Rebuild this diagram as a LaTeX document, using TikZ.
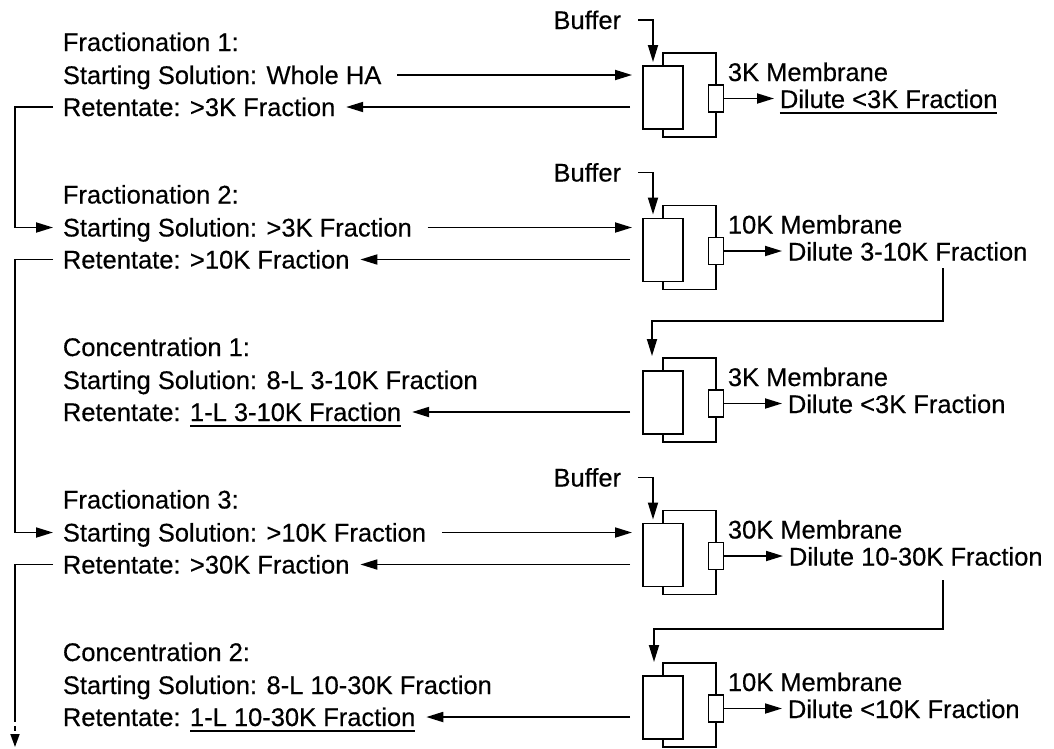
\documentclass[tikz,border=0pt]{standalone}
\usepackage{fontspec}
\setmainfont[FakeBold=0.4]{Liberation Sans}
\usetikzlibrary{arrows.meta,calc}
\newcommand\ulin[1]{\setbox0\hbox{#1}\rlap{\rule[-6pt]{\wd0}{1.8pt}}\box0}
% apparatus: id, Y, membrane text, dilute text, dilute x
\newcommand\apparatus[5]{%
  \draw (663,65+#2) -- (663,53+#2) -- (716,53+#2) -- (716,137+#2) -- (663,137+#2) -- (663,128+#2);
  \node[tank] (tank#1) at (642,65+#2) {};
  \node[memb] (memb#1) at (716,98.5+#2) {};
  \node[lbl] (mt#1) at (727,81+#2) {#3};
  \node[lbl] (dt#1) at (#5,108+#2) {#4};
  \coordinate (dtip#1) at (#5-5,98.5+#2);
  \draw[tip] (memb#1.east) -- (dtip#1);
}
\newcommand\bufferin[2]{%
  \node[lbr] (bf#1) at (622,29+#2) {Buffer};
  \coordinate (bfin#1) at (653,62+#2);
  \draw[tip] ([xshift=16pt]bf#1.east) -| (bfin#1);
}
% left text block: id, Y, title, start, retentate
\newcommand\textblock[5]{%
  \node[lbl] (ti#1) at (62,51+#2) {#3};
  \node[lbl] (st#1) at (62,84+#2) {#4};
  \node[lbl] (re#1) at (62,116+#2) {#5};
  \coordinate (sto#1) at ([shift={(15pt,9pt)}]st#1.base east);
  \coordinate (sti#1) at ([shift={(-9pt,9pt)}]st#1.base west);
  \coordinate (reo#1) at ([shift={(10pt,9pt)}]re#1.base east);
  \coordinate (rei#1) at ([shift={(-9pt,9pt)}]re#1.base west);
  \coordinate (tin#1) at (632,75+#2);
  \coordinate (tout#1) at (630,107+#2);
}
\begin{document}
\begin{tikzpicture}[x=1pt,y=-1pt,line width=1.8pt,
  lbl/.style={anchor=base west,inner sep=0pt,font=\fontsize{25.5}{30}\selectfont},
  lbr/.style={anchor=base east,inner sep=0pt,font=\fontsize{25.5}{30}\selectfont},
  tip/.style={-{Triangle[length=17pt,width=10pt]}},
  tank/.style={draw,fill=white,minimum width=40pt,minimum height=63pt,inner sep=0pt,anchor=north west},
  memb/.style={draw,fill=white,minimum width=15pt,minimum height=27pt,inner sep=0pt}]
\path[fill=white] (0,0) rectangle (1054,748);
\useasboundingbox (0,0) rectangle (1054,748);
\coordinate (lx) at (15,0);
% block 1
\apparatus{1}{0}{3K Membrane}{\ulin{Dilute <3K Fraction}}{779}
\bufferin{1}{0}
\textblock{1}{0}{Fractionation 1:}{Starting Solution: Whole HA}{Retentate: >3K Fraction}
\draw[tip] (sto1) -- (tin1);
\draw[tip] (tout1) -- (reo1);
% block 2
\apparatus{2}{152.5}{10K Membrane}{Dilute 3-10K Fraction}{787}
\bufferin{2}{152.5}
\textblock{2}{152.5}{Fractionation 2:}{Starting Solution: >3K Fraction}{Retentate: >10K Fraction}
\draw[tip] (sto2) -- (tin2);
\draw[tip] (tout2) -- (reo2);
% block 3
\apparatus{3}{305}{3K Membrane}{Dilute <3K Fraction}{787}
\textblock{3}{305}{Concentration 1:}{Starting Solution: 8-L 3-10K Fraction}{Retentate: \ulin{1-L 3-10K Fraction}}
\draw[tip] (tout3) -- (reo3);
% block 4
\apparatus{4}{457.5}{30K Membrane}{Dilute 10-30K Fraction}{788}
\bufferin{4}{457.5}
\textblock{4}{457.5}{Fractionation 3:}{Starting Solution: >10K Fraction}{Retentate: >30K Fraction}
\draw[tip] (sto4) -- (tin4);
\draw[tip] (tout4) -- (reo4);
% block 5
\apparatus{5}{610}{10K Membrane}{Dilute <10K Fraction}{787}
\textblock{5}{610}{Concentration 2:}{Starting Solution: 8-L 10-30K Fraction}{Retentate: \ulin{1-L 10-30K Fraction}}
\draw[tip] (tout5) -- (reo5);
% left returns
\draw[tip] (rei1) -- (rei1 -| lx) |- (sti2);
\draw[tip] (rei2) -- (rei2 -| lx) |- (sti4);
\coordinate (down1) at (15,722);
\coordinate (down2) at (15,747);
\draw (rei4) -- (rei4 -| lx) -- (down1);
\draw (15,726) -- (15,731);
\draw[-{Triangle[length=13pt,width=9pt]}] (15,735) -- (down2);
% right transfers
\coordinate (v2) at (943,268);
\coordinate (in3) at (652,356);
\draw[tip] (v2) |- (943,321) -| (in3);
\coordinate (v4) at (943,580);
\coordinate (in5) at (654,662);
\draw[tip] (v4) |- (943,629) -| (in5);
\end{tikzpicture}
\end{document}
